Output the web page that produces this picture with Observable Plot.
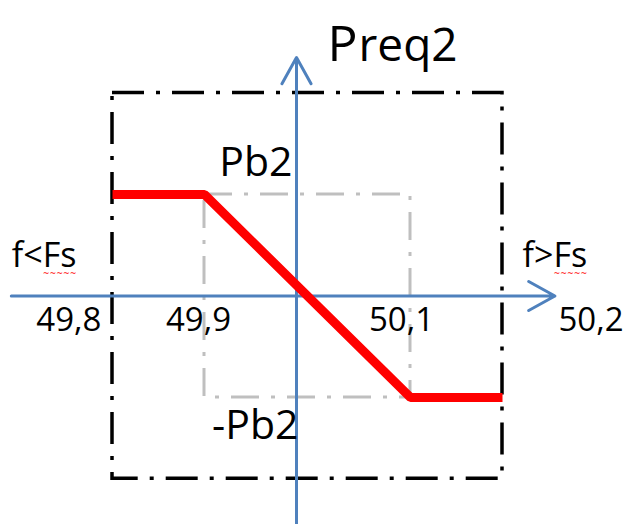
<!DOCTYPE html>
<html>
<head>
<meta charset="utf-8">
<script src="https://cdn.jsdelivr.net/npm/d3@7"></script>
<script src="https://cdn.jsdelivr.net/npm/@observablehq/plot@0.6"></script>
<style>
  html, body { margin: 0; padding: 0; background: #fff; }
  #chart svg { display: block; }
</style>
</head>
<body>
<div id="chart"></div>
<script>
// ---- Data ----
// Frequency breakpoints (Hz) of the droop characteristic
const freqs = [49.8, 49.9, 50.1, 50.2];
// Required power at each breakpoint, in units of Pb2
const preq = [1, 1, -1, -1];
// Tick labels (decimal comma)
const tickLabels = ["49,8", "49,9", "50,1", "50,2"];
// Dead-band box (gray) and outer limit box (black), f in Hz, P in Pb2 units
const innerBox = [{f1: 49.9, f2: 50.1, p1: -1, p2: 1}];
const outerBox = [{f1: 49.8, f2: 50.2, p1: -1.8, p2: 2}];
// Axis extents
const freqAxis = [{f1: 49.69, f2: 50.257, p: 0}];
const powerAxis = [{f: 50, p1: -2.3, p2: 2.35}];
// Text labels
const powerLabels = ["Pb2", "-Pb2"];
const sideLabels = ["f<Fs", "f>Fs"];
const titleParts = ["P", "req2"];

// ---- Layout ----
const font = "'Open Sans', sans-serif";
const blue = "#4f81bd";
// the schematic's frequency axis is not drawn to scale: piecewise placement
const fPlace = d3.scaleLinear()
  .domain([49.8, 49.9, 50, 50.1, 50.2])
  .range([0, 92, 184, 298, 390]);
const tickOffsets = [
  {anchor: "end", dx: -11},
  {anchor: "middle", dx: -6},
  {anchor: "middle", dx: -9},
  {anchor: "start", dx: 56}
];

const curve = freqs.map((f, i) => ({f, p: preq[i]}));
const ticks = freqs.map((f, i) => ({f, label: tickLabels[i]}));

const plot = Plot.plot({
  width: 627,
  height: 524,
  margin: 0,
  style: {background: "#fff", fontFamily: font, color: "#000", overflow: "visible"},
  x: {transform: fPlace, domain: [0, 390], range: [112, 502], axis: null},
  y: {domain: [-1, 1], range: [397, 194], axis: null},
  marks: [
    Plot.rect(outerBox, {x1: "f1", x2: "f2", y1: "p1", y2: "p2", fill: "none",
      stroke: "#000", strokeWidth: 3.5, strokeDasharray: "32,12,4,12"}),
    Plot.rect(innerBox, {x1: "f1", x2: "f2", y1: "p1", y2: "p2", fill: "none",
      stroke: "#bfbfbf", strokeWidth: 3, strokeDasharray: "28,12,4,12"}),
    Plot.arrow(freqAxis, {x1: "f1", x2: "f2", y1: "p", y2: "p", stroke: blue,
      strokeWidth: 3, headAngle: 58, headLength: 15}),
    Plot.arrow(powerAxis, {x1: "f", x2: "f", y1: "p1", y2: "p2", stroke: blue,
      strokeWidth: 3, headAngle: 58, headLength: 15}),
    Plot.line(curve, {x: "f", y: "p", stroke: "#ff0000", strokeWidth: 9,
      strokeLinejoin: "miter", strokeLinecap: "butt"}),
    ...ticks.map((t, i) => Plot.text([t], {x: "f", y: () => 0, text: "label",
      textAnchor: tickOffsets[i].anchor, dx: tickOffsets[i].dx, dy: 35,
      lineAnchor: "bottom", fontSize: 33, fill: "#000"})),
    Plot.text([powerLabels[0]], {x: () => 50, y: () => 1, text: d => d,
      textAnchor: "end", dx: -4, dy: -19, lineAnchor: "bottom", fontSize: 41, fill: "#000"}),
    Plot.text([powerLabels[1]], {x: () => 50, y: () => -1, text: d => d,
      textAnchor: "end", dx: 2, dy: 41, lineAnchor: "bottom", fontSize: 41, fill: "#000"}),
    Plot.text([sideLabels[0]], {x: () => 49.8, y: () => 0, text: d => d,
      textAnchor: "end", dx: -36, dy: -29, lineAnchor: "bottom", fontSize: 34, fill: "#000"}),
    Plot.text([sideLabels[1]], {x: () => 50.2, y: () => 0, text: d => d,
      textAnchor: "start", dx: 20, dy: -29, lineAnchor: "bottom", fontSize: 34, fill: "#000"}),
    Plot.text([titleParts[0]], {x: () => 50, y: () => 2, text: d => d,
      textAnchor: "start", dx: 31, dy: -32, lineAnchor: "bottom", fontSize: 50, fill: "#000"}),
    Plot.text([titleParts[1]], {x: () => 50, y: () => 2, text: d => d,
      textAnchor: "start", dx: 62, dy: -32, lineAnchor: "bottom", fontSize: 46, fill: "#000"})
  ]
});

document.getElementById("chart").append(plot);

// spell-check style wavy underline: red tilde run right under each "Fs"
const svg = d3.select(plot);
const svgCTM = plot.getScreenCTM().inverse();
svg.selectAll("text").filter(function () { return /^f[<>]Fs$/.test(this.textContent); })
  .each(function () {
    const m = svgCTM.multiply(this.getScreenCTM());
    const p0 = this.getStartPositionOfChar(2).matrixTransform(m);
    const p1 = this.getEndPositionOfChar(3).matrixTransform(m);
    svg.append("text")
      .attr("x", p0.x)
      .attr("y", p0.y + 10)
      .attr("text-anchor", "start")
      .attr("font-family", "DejaVu Sans")
      .attr("font-size", 10)
      .attr("fill", "#ff3030")
      .attr("textLength", p1.x - p0.x)
      .attr("lengthAdjust", "spacingAndGlyphs")
      .text("~~~~~");
  });
</script>
</body>
</html>
